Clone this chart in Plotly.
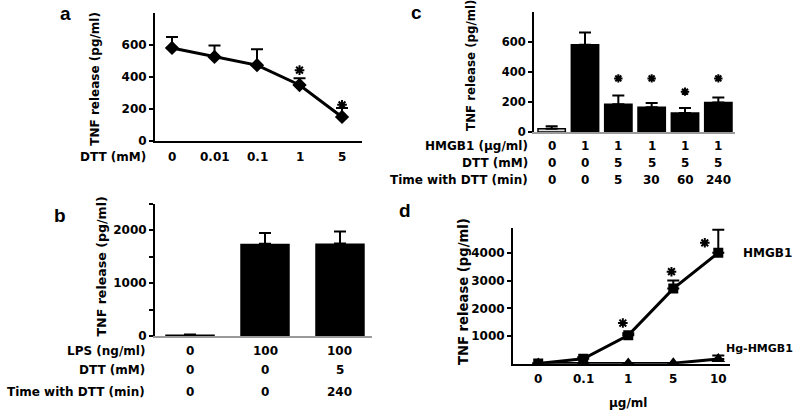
import plotly.graph_objects as go

W, H = 797, 419
def PX(x): return x / W
def PY(y): return 1 - y / H

# ---------------- data ----------------
# Panel a
a_dtt = ["0", "0.01", "0.1", "1", "5"]
a_tnf = [580, 524, 472, 348, 148]
a_err = [68, 72, 99, 42, 56]
a_star_x = [3, 4]
a_star_y = [441, 224]

# Panel b
b_lps = ["0", "100", "100"]
b_dtt = ["0", "0", "5"]
b_time = ["0", "0", "240"]
b_tnf = [30, 1741, 1745]
b_err = [0, 203, 225]

# Panel c
c_hmgb1 = ["0", "1", "1", "1", "1", "1"]
c_dtt = ["0", "0", "5", "5", "5", "5"]
c_time = ["0", "0", "5", "30", "60", "240"]
c_tnf = [22, 580, 185, 164, 126, 196]
c_err = [17, 81, 57, 28, 33, 33]
c_star_x = [2, 3, 4, 5]
c_star_y = [356, 356, 268, 356]

# Panel d
d_conc = ["0", "0.1", "1", "5", "10"]
d_hmgb1 = [15, 180, 1025, 2710, 4000]
d_hmgb1_err = [0, 60, 80, 290, 830]
d_hg = [10, 15, 15, 20, 170]
d_hg_err = [0, 0, 0, 0, 130]
d_star_x = [1.88, 2.96, 3.70]
d_star_y = [1470, 3320, 4360]

FONT = "DejaVu Sans"
BLK = "black"

fig = go.Figure()

def err(vals):
    return dict(type="data", symmetric=False, array=vals, arrayminus=[0] * len(vals),
                color=BLK, thickness=2, width=6)

def stars(x, y, xa, ya, size=8):
    return go.Scatter(x=x, y=y, mode="markers",
                      marker=dict(symbol="asterisk-open", size=size, color=BLK,
                                  line=dict(color=BLK, width=2)),
                      xaxis=xa, yaxis=ya, showlegend=False)

# Panel a
fig.add_trace(go.Scatter(x=list(range(len(a_dtt))), y=a_tnf, mode="lines+markers",
                         line=dict(color=BLK, width=3),
                         marker=dict(symbol="diamond", size=11, color=BLK),
                         error_y=err(a_err), xaxis="x", yaxis="y", showlegend=False))
fig.add_trace(stars(a_star_x, a_star_y, "x", "y"))

# Panel b
fig.add_trace(go.Bar(x=list(range(len(b_tnf))), y=b_tnf, width=0.66,
                     marker=dict(color=BLK, line=dict(width=0)),
                     error_y=err(b_err), xaxis="x2", yaxis="y2", showlegend=False))

# Panel c
fig.add_trace(go.Bar(x=list(range(len(c_tnf))), y=c_tnf, width=0.82,
                     marker=dict(color=["#e0e0e0"] + [BLK] * (len(c_tnf) - 1),
                                 line=dict(color=BLK, width=1.5)),
                     error_y=err(c_err), xaxis="x3", yaxis="y3", showlegend=False))
fig.add_trace(stars(c_star_x, c_star_y, "x3", "y3", size=7))

# Panel d
fig.add_trace(go.Scatter(x=list(range(len(d_conc))), y=d_hg, mode="lines+markers",
                         line=dict(color=BLK, width=3),
                         marker=dict(symbol="triangle-up", size=12, color=BLK),
                         error_y=err(d_hg_err), xaxis="x4", yaxis="y4", showlegend=False))
fig.add_trace(go.Scatter(x=list(range(len(d_conc))), y=d_hmgb1, mode="lines+markers",
                         line=dict(color=BLK, width=3),
                         marker=dict(symbol="square", size=10, color=BLK),
                         error_y=err(d_hmgb1_err), xaxis="x4", yaxis="y4", showlegend=False))
fig.add_trace(stars(d_star_x, d_star_y, "x4", "y4"))

def xax(dom, rng, linecolor=BLK):
    return dict(domain=[PX(dom[0]), PX(dom[1])], range=rng, showticklabels=False,
                showline=True, linecolor=linecolor, linewidth=2, zeroline=False,
                showgrid=False, ticks="", fixedrange=True)

def yax(dom, rng, tickvals, anchor, fs=12):
    return dict(domain=[PY(dom[1]), PY(dom[0])], range=rng, tickvals=tickvals,
                showline=True, linecolor=BLK, linewidth=2, zeroline=False,
                showgrid=False, ticks="outside", ticklen=4, tickwidth=2, tickcolor=BLK,
                tickfont=dict(family=FONT, size=fs, color=BLK, weight="bold"),
                anchor=anchor, fixedrange=True)

layout = dict(
    width=W, height=H, margin=dict(l=0, r=0, t=0, b=0),
    paper_bgcolor="white", plot_bgcolor="white",
    font=dict(family=FONT, size=12, color=BLK, weight="bold"),
    xaxis=dict(xax((155, 362), [-0.4, 4.47]), anchor="y"),
    yaxis=yax((13, 143), [0, 800], [0, 200, 400, 600], "x"),
    xaxis2=dict(xax((155, 372), [-0.467, 2.427], "#9a9a9a"), anchor="y2"),
    yaxis2=dict(yax((207, 341.7), [0, 2500], [0, 1000, 2000], "x2"),
                minor=dict(tickvals=[500, 1500, 2500], ticks="outside", ticklen=4,
                           tickwidth=1.5, tickcolor=BLK)),
    xaxis3=dict(xax((534, 735), [-0.53, 5.5], "#9a9a9a"), anchor="y3"),
    yaxis3=yax((11.7, 134.3), [0, 800], [0, 200, 400, 600], "x3", fs=11.5),
    xaxis4=dict(xax((513, 730), [-0.56, 4.26]), anchor="y4"),
    yaxis4=yax((231.7, 370), [0, 4900], [1000, 2000, 3000, 4000], "x4"),
)
fig.update_layout(**layout)

ann = []
def txt(x, y, t, xref="paper", xanchor="center", size=12, angle=0, family=FONT):
    ann.append(dict(x=x, y=y, xref=xref, yref="paper", text=t, showarrow=False,
                    xanchor=xanchor, yanchor="middle", textangle=angle,
                    font=dict(family=family, size=size, color=BLK, weight="bold")))

# panel letters
txt(PX(65), PY(14), "a", size=19, family="Liberation Sans")
txt(PX(60), PY(219), "b", size=19, family="Liberation Sans")
txt(PX(416), PY(13), "c", size=19, family="Liberation Sans")
txt(PX(405), PY(214), "d", size=19, family="Liberation Sans")

# y titles
txt(PX(95), PY(80), "TNF release (pg/ml)", size=12, angle=-90)
txt(PX(101), PY(271), "TNF release (pg/ml)", size=12.6, angle=-90)
txt(PX(471), PY(67), "TNF release (pg/ml)", size=11.8, angle=-90)
txt(PX(463), PY(296), "TNF release (pg/ml)", size=13.2, angle=-90)

# panel a table
txt(PX(148), PY(160), "DTT (mM)", xanchor="right")
for i, v in enumerate(a_dtt):
    txt(i, PY(160), v, xref="x")

# panel b table
rows_b = [("LPS (ng/ml)", b_lps, 356.7), ("DTT (mM)", b_dtt, 376.7),
          ("Time with DTT (min)", b_time, 398.3)]
for lab, vals, yy in rows_b:
    txt(PX(147), PY(yy), lab, xanchor="right")
    for i, v in enumerate(vals):
        txt(i, PY(yy), v, xref="x2")

# panel c table
rows_c = [("HMGB1 (µg/ml)", c_hmgb1, 148), ("DTT (mM)", c_dtt, 165.3),
          ("Time with DTT (min)", c_time, 183)]
for lab, vals, yy in rows_c:
    txt(PX(530), PY(yy), lab, xanchor="right")
    for i, v in enumerate(vals):
        txt(i, PY(yy), v, xref="x3")

# panel d
for i, v in enumerate(d_conc):
    txt(i, PY(385), v, xref="x4")
txt(PX(628), PY(410), "µg/ml")
txt(PX(741), PY(257), "HMGB1", xanchor="left")
txt(PX(724), PY(354), "Hg-HMGB1", xanchor="left", size=11)

fig.update_layout(annotations=ann)
fig.write_html("out.html", config={"displayModeBar": False},
               post_script="document.body.style.margin='0';document.body.style.padding='0';")
